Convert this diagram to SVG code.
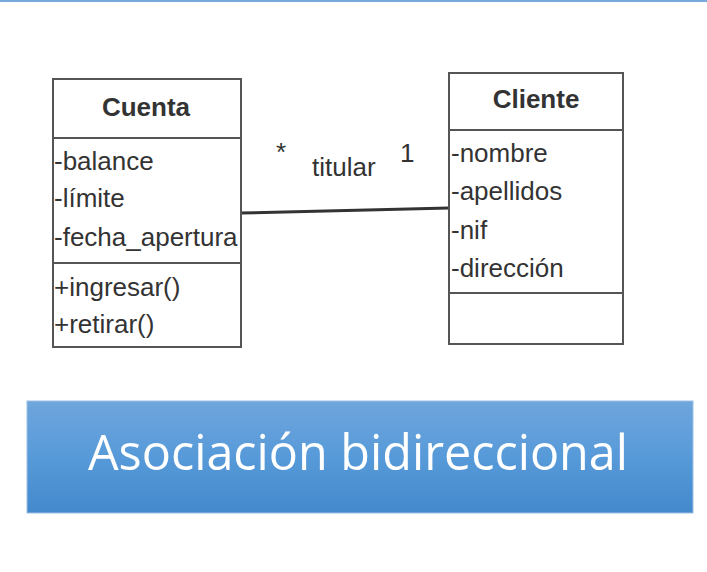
<svg xmlns="http://www.w3.org/2000/svg" width="707" height="572" viewBox="0 0 707 572">
<defs>
<linearGradient id="bg" x1="0" y1="0" x2="0" y2="1">
<stop offset="0" stop-color="#6fa6dd"/>
<stop offset="0.5" stop-color="#579ad9"/>
<stop offset="1" stop-color="#4489cc"/>
</linearGradient>
</defs>
<style>
.box{fill:#fff;stroke:#555;stroke-width:2}
.div{stroke:#555;stroke-width:2}
.t{font-family:"Liberation Sans",Arial,sans-serif;font-size:26px;fill:#333}
.h{font-family:"Liberation Sans",Arial,sans-serif;font-size:26px;font-weight:bold;fill:#333;text-anchor:middle}
.conn{stroke:#333;stroke-width:3;fill:none}
.banner{font-family:"Open Sans",sans-serif;font-size:48.5px;fill:#fff;text-anchor:middle}
</style>
<rect x="0" y="0" width="707" height="2" fill="#7aa8da"/>
<g id="connectors">
<line class="conn" x1="241" y1="213" x2="449" y2="208"/>
<text class="t" x="276" y="161">*</text>
<text class="t" x="312" y="176">titular</text>
<text class="t" x="400" y="162">1</text>
</g>
<g id="cuenta">
<rect class="box" x="53" y="79" width="188" height="268"/>
<line class="div" x1="53" y1="138" x2="241" y2="138"/>
<line class="div" x1="53" y1="263" x2="241" y2="263"/>
<text class="h" x="146" y="116">Cuenta</text>
<text class="t" x="54" y="170">-balance</text>
<text class="t" x="54" y="207">-límite</text>
<text class="t" x="54" y="246">-fecha_apertura</text>
<text class="t" x="54" y="296">+ingresar()</text>
<text class="t" x="54" y="333">+retirar()</text>
</g>
<g id="cliente">
<rect class="box" x="449" y="73" width="174" height="271"/>
<line class="div" x1="449" y1="130" x2="623" y2="130"/>
<line class="div" x1="449" y1="293" x2="623" y2="293"/>
<text class="h" x="536" y="108">Cliente</text>
<text class="t" x="451" y="162">-nombre</text>
<text class="t" x="451" y="200">-apellidos</text>
<text class="t" x="451" y="239">-nif</text>
<text class="t" x="451" y="277">-dirección</text>
</g>
<g id="banner">
<rect x="27" y="401" width="666" height="112" fill="url(#bg)" stroke="#9fc0e6" stroke-width="1"/>
<text class="banner" x="358" y="470">Asociación bidireccional</text>
</g>
</svg>
